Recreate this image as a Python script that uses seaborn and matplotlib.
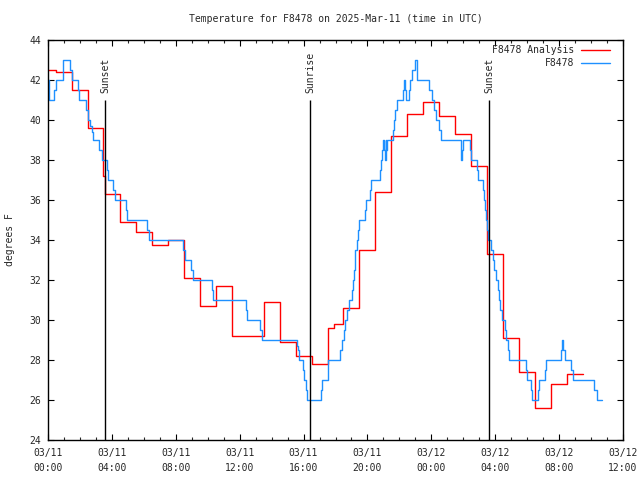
import matplotlib
matplotlib.use("Agg")
import matplotlib.pyplot as plt
import seaborn as sns
import pandas as pd
from matplotlib.lines import Line2D
from matplotlib.ticker import MultipleLocator, NullLocator, FixedLocator

title = "Temperature for F8478 on 2025-Mar-11 (time in UTC)"
ylabel = "degrees F"
analysis_label = "F8478 Analysis"
obs_label = "F8478"

# hours since 03/11 00:00 UTC
analysis_hours = [0.0, 0.5, 1.5, 2.5, 3.47, 3.58, 4.5, 5.5, 6.5, 7.5, 8.5, 9.5, 10.5,
                  11.5, 13.5, 14.5, 15.5, 16.5, 17.5, 17.9, 18.5, 19.5, 20.5, 21.5,
                  22.5, 23.5, 24.5, 25.5, 26.5, 27.5, 28.5, 29.5, 30.5, 31.5, 32.5, 33.5]
analysis_temp = [42.5, 42.4, 41.5, 39.6, 37.2, 36.3, 34.9, 34.4, 33.75, 34.0, 32.1, 30.7, 31.7,
                 29.2, 30.9, 28.9, 28.2, 27.8, 29.6, 29.8, 30.6, 33.5, 36.4, 39.2,
                 40.3, 40.9, 40.2, 39.3, 37.7, 33.3, 29.1, 27.4, 25.6, 26.8, 27.3, 27.3]

obs_hours = [0.00, 0.04, 0.08, 0.39, 0.48, 0.94, 1.40, 1.49, 1.90, 1.96, 2.40, 2.49, 2.65, 2.74,
             2.80, 3.21, 3.36, 3.68, 3.78, 4.09, 4.19, 4.90, 4.97, 6.22, 6.30, 8.47, 8.56, 8.98,
             9.05, 10.24, 10.30, 12.42, 12.48, 13.30, 13.40, 15.59, 15.63, 15.70, 15.96, 16.01,
             16.13, 16.22, 17.07, 17.17, 17.50, 18.30, 18.43, 18.51, 18.58, 18.70, 18.83, 19.01,
             19.08, 19.14, 19.20, 19.24, 19.35, 19.41, 19.47, 19.83, 19.89, 20.14, 20.20, 20.81,
             20.85, 20.89, 20.96, 21.02, 21.08, 21.14, 21.18, 21.24, 21.57, 21.64, 21.73, 21.83,
             22.25, 22.31, 22.37, 22.43, 22.62, 22.68, 22.81, 22.98, 23.08, 23.12, 23.88, 24.04,
             24.19, 24.27, 24.50, 24.59, 25.88, 25.94, 26.00, 26.44, 26.51, 26.86, 26.90, 27.25,
             27.32, 27.38, 27.44, 27.50, 27.57, 27.75, 27.88, 27.94, 28.03, 28.16, 28.26, 28.32,
             28.41, 28.63, 28.69, 28.82, 28.88, 29.91, 29.96, 30.26, 30.32, 30.68, 30.74, 31.12,
             31.16, 32.12, 32.16, 32.24, 32.35, 32.77, 32.84, 34.20, 34.37, 34.67]
obs_temp = [42.0, 41.5, 41.0, 41.5, 42.0, 43.0, 42.5, 42.0, 41.5, 41.0, 40.5, 40.0, 39.7, 39.4,
            39.0, 38.5, 38.0, 37.5, 37.0, 36.5, 36.0, 35.5, 35.0, 34.5, 34.0, 33.5, 33.0, 32.5,
            32.0, 31.5, 31.0, 30.5, 30.0, 29.5, 29.0, 28.7, 28.5, 28.0, 27.5, 27.0,
            26.5, 26.0, 26.5, 27.0, 28.0, 28.5, 29.0, 29.5, 30.0, 30.5, 31.0, 31.5,
            32.0, 32.5, 33.0, 33.5, 34.0, 34.5, 35.0, 35.5, 36.0, 36.5, 37.0, 37.5,
            38.0, 38.5, 39.0, 38.5, 38.0, 39.0, 38.5, 39.0, 39.5, 40.0, 40.5, 41.0,
            41.5, 42.0, 41.5, 41.0, 41.5, 42.0, 42.5, 43.0, 42.5, 42.0, 41.5, 41.0,
            40.5, 40.0, 39.5, 39.0, 38.0, 38.5, 39.0, 38.5, 38.0, 37.5, 37.0, 36.5,
            36.0, 35.5, 35.0, 34.5, 34.0, 33.5, 33.0, 32.5, 32.0, 31.5, 31.0, 30.5,
            30.0, 29.5, 29.0, 28.5, 28.0, 27.5, 27.0, 26.5, 26.0, 26.5, 27.0, 27.5,
            28.0, 28.5, 29.0, 28.5, 28.0, 27.5, 27.0, 26.5, 26.0, 26.0]

sun_events = ["Sunset", "Sunrise", "Sunset"]
sun_hours = [3.59, 16.43, 27.63]

xtick_hours = [0, 4, 8, 12, 16, 20, 24, 28, 32, 36]
xtick_labels = ["03/11\n00:00", "03/11\n04:00", "03/11\n08:00", "03/11\n12:00", "03/11\n16:00",
                "03/11\n20:00", "03/12\n00:00", "03/12\n04:00", "03/12\n08:00", "03/12\n12:00"]
ytick_values = [24, 26, 28, 30, 32, 34, 36, 38, 40, 42, 44]

colors = {analysis_label: "#ff0000", obs_label: "#1e90ff"}

df = pd.concat([
    pd.DataFrame({"hours": analysis_hours, "temp": analysis_temp, "series": analysis_label}),
    pd.DataFrame({"hours": obs_hours, "temp": obs_temp, "series": obs_label}),
], ignore_index=True)

sns.set_style("ticks")
plt.rcParams["font.family"] = ["DejaVu Sans Mono"]
plt.rcParams["font.size"] = 7

fig = plt.figure(figsize=(6.4, 4.8), dpi=100)
ax = fig.add_axes([48 / 640, 40 / 480, 575 / 640, 400 / 480])

sns.lineplot(data=df, x="hours", y="temp", hue="series",
             hue_order=[analysis_label, obs_label], palette=colors,
             drawstyle="steps-post", estimator=None, sort=False,
             linewidth=1.0, legend=False, ax=ax)

ax.vlines(sun_hours, 24, 41.0, color="black", linewidth=1.0)
for h, name in zip(sun_hours, sun_events):
    ax.text(h, 41.35, name, rotation=90, ha="center", va="bottom", fontsize=7)

ax.set_xlim(0, 36)
ax.set_ylim(24, 44)
ax.xaxis.set_major_locator(FixedLocator(xtick_hours))
ax.set_xticklabels(xtick_labels)
ax.xaxis.set_minor_locator(MultipleLocator(1))
ax.yaxis.set_major_locator(FixedLocator(ytick_values))
ax.yaxis.set_minor_locator(NullLocator())
for lab in ax.get_xticklabels():
    lab.set_linespacing(1.7)
ax.tick_params(which="major", direction="in", top=True, right=True, length=4.5, width=0.8,
               labelsize=7, color="black")
ax.tick_params(which="minor", direction="in", top=True, right=True, length=2.3, width=0.8)
ax.tick_params(axis="x", pad=5.5)
ax.tick_params(axis="y", pad=5)
for s in ax.spines.values():
    s.set_linewidth(1.0)
    s.set_color("black")
ax.set_xlabel("")
ax.set_ylabel("")

fig.text(335.5 / 640, 1 - 19 / 480, title, ha="center", va="center", fontsize=7)
fig.text(10 / 640, 240 / 480, ylabel, rotation=90, ha="center", va="center", fontsize=7)

handles = [Line2D([], [], color=colors[analysis_label], linewidth=1.0),
           Line2D([], [], color=colors[obs_label], linewidth=1.0)]
ax.legend(handles, [analysis_label, obs_label], loc="upper right",
          bbox_to_anchor=((610 - 48) / 575, (440 - 45) / 400),
          frameon=False, markerfirst=False, borderaxespad=0, borderpad=0,
          handlelength=3.0, handletextpad=0.7, labelspacing=0.35, fontsize=7)

fig.savefig("out.png", dpi=100)
